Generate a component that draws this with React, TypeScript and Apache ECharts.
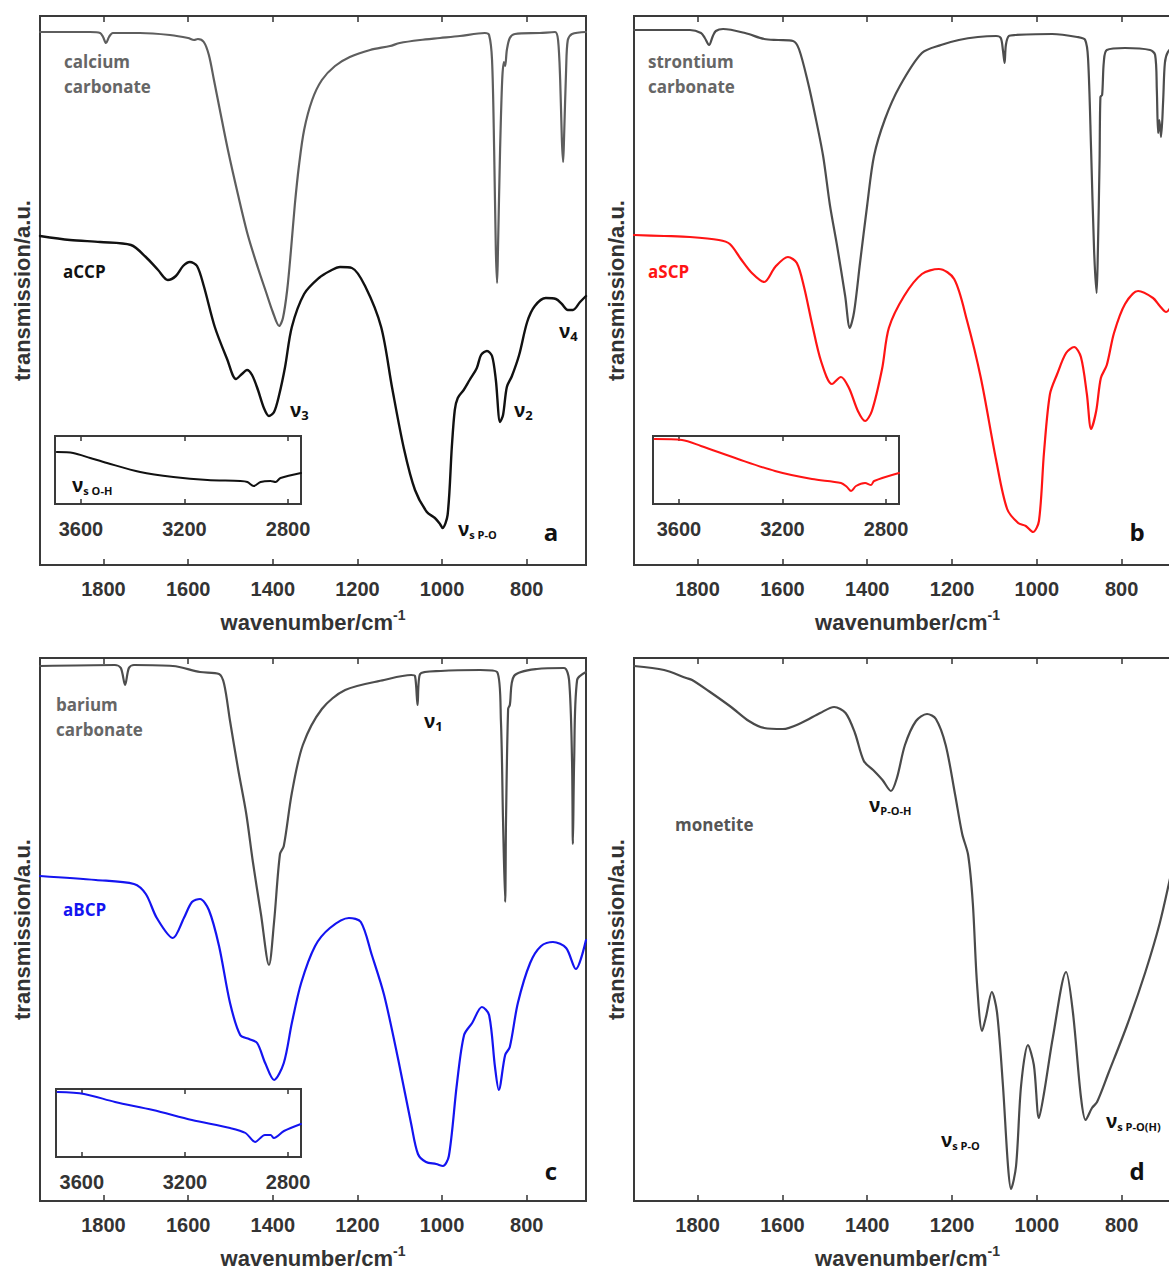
import React, { useEffect, useRef } from "react";
import * as echarts from "echarts";

type Pt = [number, number];

// tick labels
const mainTicks = [1800, 1600, 1400, 1200, 1000, 800];
const insetTicks = [3600, 3200, 2800];

// ---- panel a ----
const calciumCarbonate: Pt[] = [
  [1950, 533], [1832, 533], [1808, 532], [1801, 528], [1794, 522], [1787, 528], [1778, 532], [1714, 532],
  [1643, 530], [1600, 527], [1586, 525], [1577, 526], [1563, 523], [1551, 510], [1539, 485], [1525, 455],
  [1506, 415], [1482, 370], [1459, 330], [1435, 297], [1416, 273], [1400, 253], [1385, 239], [1376, 247],
  [1366, 275], [1357, 315], [1348, 360], [1338, 400], [1326, 435], [1307, 465], [1284, 485], [1253, 499],
  [1218, 508], [1170, 515], [1123, 519], [1100, 522], [1052, 525], [1005, 527], [958, 529], [899, 532],
  [889, 530], [882, 505], [877, 415], [873, 315], [870, 282], [868, 315], [863, 415], [858, 485],
  [854, 503], [851, 499], [847, 515], [840, 527], [828, 531], [769, 532], [733, 533], [726, 525],
  [721, 485], [717, 425], [714, 403], [712, 425], [707, 495], [703, 525], [693, 531], [660, 533],
];
const aCCP: Pt[] = [
  [1950, 329], [1879, 325], [1808, 323], [1735, 320], [1700, 308], [1671, 295], [1648, 285], [1629, 289],
  [1612, 299], [1596, 303], [1579, 299], [1563, 279], [1537, 238], [1508, 206], [1487, 186], [1473, 191],
  [1461, 195], [1449, 190], [1435, 175], [1421, 157], [1409, 149], [1397, 153], [1385, 170], [1371, 198],
  [1355, 238], [1326, 271], [1291, 287], [1265, 294], [1241, 298], [1213, 297], [1182, 279], [1144, 238],
  [1118, 177], [1090, 116], [1064, 75], [1036, 53], [1017, 47], [1005, 41], [999, 37], [987, 50],
  [977, 118], [970, 155], [963, 167], [949, 175], [935, 185], [918, 197], [908, 210], [894, 214],
  [882, 209], [873, 185], [863, 143], [856, 150], [847, 178], [835, 189], [818, 210], [799, 243],
  [781, 259], [755, 267], [731, 266], [717, 261], [703, 255], [691, 255], [674, 263], [660, 269],
];
const aCCPInset: Pt[] = [
  [3693, 52], [3630, 51], [3564, 46], [3499, 41], [3371, 32], [3243, 27], [3111, 24], [2984, 23],
  [2957, 22], [2933, 18], [2906, 22], [2868, 23], [2848, 22], [2829, 26], [2750, 31],
];

// ---- panel b ----
const strontiumCarbonate: Pt[] = [
  [1950, 535], [1818, 535], [1792, 532], [1783, 527], [1773, 520], [1764, 529], [1757, 534], [1740, 536],
  [1688, 532], [1643, 526], [1610, 525], [1575, 524], [1561, 516], [1540, 483], [1523, 450], [1504, 409],
  [1488, 360], [1471, 319], [1452, 269], [1441, 237], [1431, 253], [1417, 302], [1400, 360], [1384, 409],
  [1358, 446], [1323, 479], [1271, 512], [1226, 520], [1184, 525], [1139, 528], [1096, 529], [1085, 527],
  [1080, 515], [1076, 502], [1073, 520], [1066, 529], [1051, 530], [964, 531], [905, 528], [886, 525],
  [879, 505], [872, 415], [865, 315], [859, 272], [856, 315], [852, 405], [850, 468], [846, 470],
  [842, 503], [835, 515], [792, 517], [733, 515], [721, 510], [717, 475], [714, 432], [711, 445],
  [707, 428], [702, 465], [698, 502], [691, 513], [674, 520], [660, 522],
];
const aSCP: Pt[] = [
  [1950, 330], [1879, 329], [1818, 328], [1750, 325], [1724, 321], [1698, 306], [1672, 292], [1643, 283],
  [1617, 298], [1587, 308], [1566, 302], [1549, 278], [1530, 241], [1509, 204], [1483, 181], [1462, 188],
  [1443, 177], [1422, 154], [1405, 144], [1389, 154], [1365, 196], [1349, 237], [1313, 269], [1271, 291],
  [1231, 296], [1195, 286], [1165, 245], [1132, 187], [1096, 105], [1070, 56], [1044, 42], [1026, 39],
  [1009, 33], [995, 44], [983, 113], [969, 171], [952, 191], [931, 212], [912, 218], [896, 208],
  [882, 171], [872, 136], [860, 154], [849, 187], [835, 200], [818, 232], [792, 261], [761, 274],
  [726, 267], [710, 259], [695, 253], [674, 265], [660, 269],
];
const aSCPInset: Pt[] = [
  [3694, 65], [3588, 64], [3515, 58], [3372, 45], [3229, 33], [3086, 25], [2974, 21], [2951, 17],
  [2935, 13], [2916, 18], [2881, 21], [2858, 19], [2846, 23], [2750, 31],
];

// ---- panel c ----
const bariumCarbonate: Pt[] = [
  [1950, 535], [1773, 536], [1759, 533], [1749, 516], [1740, 533], [1728, 536], [1636, 535], [1572, 529],
  [1527, 527], [1515, 517], [1501, 480], [1482, 432], [1463, 388], [1447, 339], [1428, 287], [1409, 236],
  [1397, 279], [1383, 347], [1374, 355], [1355, 408], [1329, 456], [1284, 492], [1229, 511], [1137, 521],
  [1073, 526], [1064, 525], [1058, 496], [1052, 527], [1003, 530], [910, 531], [870, 529], [861, 480],
  [856, 380], [851, 299], [849, 380], [844, 492], [840, 496], [830, 525], [776, 532], [712, 533],
  [700, 521], [693, 440], [691, 357], [688, 440], [681, 521], [660, 529],
];
const aBCP: Pt[] = [
  [1950, 325], [1818, 321], [1728, 317], [1700, 307], [1674, 283], [1636, 263], [1610, 283], [1591, 299],
  [1572, 302], [1551, 291], [1527, 255], [1501, 198], [1477, 166], [1456, 162], [1437, 158], [1418, 138],
  [1397, 121], [1374, 138], [1355, 178], [1333, 218], [1300, 255], [1265, 273], [1220, 283], [1192, 279],
  [1166, 246], [1137, 206], [1102, 138], [1073, 77], [1057, 47], [1038, 39], [1014, 37], [998, 35],
  [984, 45], [965, 117], [948, 166], [929, 178], [906, 194], [889, 186], [875, 134], [866, 111],
  [851, 146], [840, 154], [821, 198], [792, 238], [766, 255], [738, 259], [707, 253], [684, 232], [660, 261],
];
const aBCPInset: Pt[] = [
  [3694, 65], [3591, 63], [3471, 55], [3324, 47], [3173, 37], [3025, 29], [2965, 24], [2928, 15],
  [2890, 22], [2868, 22], [2855, 19], [2816, 26], [2750, 33],
];

// ---- panel d ----
const monetite: Pt[] = [
  [1950, 535], [1879, 531], [1827, 523], [1813, 521], [1774, 510], [1721, 494], [1679, 480], [1643, 473],
  [1599, 472], [1556, 478], [1511, 488], [1478, 494], [1451, 488], [1429, 468], [1408, 440], [1386, 431],
  [1364, 421], [1344, 410], [1330, 423], [1311, 456], [1285, 480], [1259, 487], [1238, 482], [1215, 456],
  [1193, 407], [1176, 367], [1162, 346], [1151, 298], [1141, 217], [1129, 170], [1120, 184], [1106, 209],
  [1094, 189], [1080, 116], [1068, 35], [1061, 12], [1049, 35], [1037, 116], [1021, 156], [1007, 136],
  [995, 83], [983, 108], [962, 164], [931, 229], [915, 189], [896, 104], [885, 81], [870, 93],
  [858, 99], [831, 128], [787, 176], [744, 229], [710, 278], [684, 326], [660, 371],
];

const TICK_FONT = '"Liberation Sans", Arial, sans-serif';
const ANNOT_FONT = '"Open Sans", sans-serif';
const AXIS_COLOR = "#333";

export default function App() {
  const ref = useRef<HTMLDivElement>(null);

  useEffect(() => {
    const chart = echarts.init(ref.current!, undefined, { renderer: "svg" });

    const grids = [
      { left: 40, top: 16, width: 546, height: 549, inset: false, ymax: 549 },
      { left: 634, top: 16, width: 547, height: 549, inset: false, ymax: 549 },
      { left: 40, top: 658, width: 546, height: 543, inset: false, ymax: 543 },
      { left: 634, top: 658, width: 547, height: 543, inset: false, ymax: 543 },
      { left: 55, top: 436, width: 246, height: 68, inset: true, ymax: 68 },
      { left: 653, top: 436, width: 246, height: 68, inset: true, ymax: 68 },
      { left: 56, top: 1089, width: 245, height: 68, inset: true, ymax: 68 },
    ];

    const xAxes: any[] = [];
    const yAxes: any[] = [];
    grids.forEach((g, i) => {
      const ticks = g.inset ? insetTicks : mainTicks;
      const min = g.inset ? 2750 : 660;
      const max = g.inset ? 3700 : 1950;
      const tickStyle = {
        show: true,
        inside: true,
        length: g.inset ? 5 : 6,
        customValues: ticks,
        lineStyle: { color: AXIS_COLOR, width: 1.5 },
      };
      xAxes.push({
        gridIndex: i,
        type: "value",
        inverse: true,
        min,
        max,
        position: "bottom",
        axisLine: { show: false },
        axisTick: tickStyle,
        splitLine: { show: false },
        axisLabel: {
          customValues: ticks,
          formatter: (v: number) => String(v),
          margin: g.inset ? 15 : 14,
          fontSize: 20,
          fontWeight: "bold",
          fontFamily: TICK_FONT,
          color: AXIS_COLOR,
        },
        name: g.inset ? "" : "{a|wavenumber/cm}{b|-1}",
        nameLocation: "middle",
        nameGap: 43,
        nameTextStyle: {
          rich: {
            a: { fontSize: 22, fontWeight: "bold", fontFamily: TICK_FONT, color: AXIS_COLOR, lineHeight: 25, verticalAlign: "bottom" },
            b: { fontSize: 14, fontWeight: "bold", fontFamily: TICK_FONT, color: AXIS_COLOR, lineHeight: 13, verticalAlign: "top" },
          },
        },
      });
      xAxes.push({
        gridIndex: i,
        type: "value",
        inverse: true,
        min,
        max,
        position: "top",
        axisLine: { show: false },
        axisTick: tickStyle,
        splitLine: { show: false },
        axisLabel: { show: false },
      });
      yAxes.push({
        gridIndex: i,
        type: "value",
        min: 0,
        max: g.ymax,
        axisLine: { show: false },
        axisTick: { show: false },
        axisLabel: { show: false },
        splitLine: { show: false },
        name: g.inset ? "" : "transmission/a.u.",
        nameLocation: "middle",
        nameRotate: 90,
        nameGap: 7,
        nameTextStyle: { fontSize: 22, fontWeight: "bold", fontFamily: TICK_FONT, color: AXIS_COLOR },
      });
    });

    const line = (data: Pt[], gi: number, color: string, width = 2.2) => ({
      type: "line",
      xAxisIndex: gi * 2,
      yAxisIndex: gi,
      data,
      showSymbol: false,
      smooth: 0.3,
      lineStyle: { color, width, join: "round", cap: "round" },
      silent: true,
      z: 3,
    });

    const grey = "#4d4d4d";
    const series = [
      line(calciumCarbonate, 0, "#5e5e5e"),
      line(aCCP, 0, "#111111", 2.4),
      line(strontiumCarbonate, 1, grey),
      line(aSCP, 1, "#ff1414"),
      line(bariumCarbonate, 2, grey),
      line(aBCP, 2, "#1414f0"),
      line(monetite, 3, "#4a4a4a"),
      line(aCCPInset, 4, "#111111", 2),
      line(aSCPInset, 5, "#ff1414", 2),
      line(aBCPInset, 6, "#1414f0", 2),
    ];

    const plain = (x: number, y: number, text: string, fill: string, size = 17, align = "left") => ({
      type: "text",
      x,
      y,
      z: 20,
      style: {
        text,
        fill,
        font: `bold ${size}px ${ANNOT_FONT}`,
        lineHeight: 25,
        align,
        verticalAlign: "middle",
      },
    });
    const nu = (x: number, y: number, sub: string, subSize = 13, fill = "#111") => ({
      type: "text",
      x,
      y,
      z: 20,
      style: {
        text: `{v|ν}{s|${sub}}`,
        verticalAlign: "middle",
        rich: {
          v: { fontSize: 19, fontWeight: "bold", fontFamily: ANNOT_FONT, fill, lineHeight: 22 },
          s: { fontSize: subSize, fontWeight: "bold", fontFamily: ANNOT_FONT, fill, lineHeight: 12, verticalAlign: "bottom" },
        },
      },
    });

    const graphic = [
      plain(64, 74, "calcium\ncarbonate", "#666"),
      plain(63, 271, "aCCP", "#111"),
      nu(290, 410, "3"),
      nu(514, 410, "2"),
      nu(559, 331, "4"),
      nu(458, 529, "s P-O", 11),
      nu(72, 485, "s O-H", 11),
      plain(551, 531, "a", "#111", 24, "center"),

      plain(648, 74, "strontium\ncarbonate", "#666"),
      plain(648, 271, "aSCP", "#ff1414"),
      plain(1137, 531, "b", "#111", 24, "center"),

      plain(56, 717, "barium\ncarbonate", "#666"),
      nu(424, 721, "1"),
      plain(63, 909, "aBCP", "#1414f0"),
      plain(551, 1170, "c", "#111", 24, "center"),

      plain(675, 824, "monetite", "#555"),
      nu(869, 805, "P-O-H", 11),
      nu(941, 1140, "s P-O", 11),
      nu(1106, 1121, "s P-O(H)", 11),
      plain(1137, 1170, "d", "#111", 24, "center"),
    ];

    chart.setOption({
      animation: false,
      backgroundColor: "#fff",
      grid: grids.map((g) => ({
        left: g.left,
        top: g.top,
        width: g.width,
        height: g.height,
        show: true,
        borderColor: "#3a3a3a",
        borderWidth: 2,
        backgroundColor: g.inset ? "#fff" : "transparent",
        containLabel: false,
      })),
      xAxis: xAxes,
      yAxis: yAxes,
      series,
      graphic,
    });

    return () => chart.dispose();
  }, []);

  return (
    <div
      style={{ position: "absolute", left: 0, top: 0, width: 1169, height: 1275, overflow: "hidden", background: "#fff" }}
    >
      <div ref={ref} style={{ width: 1200, height: 1275 }} />
    </div>
  );
}
